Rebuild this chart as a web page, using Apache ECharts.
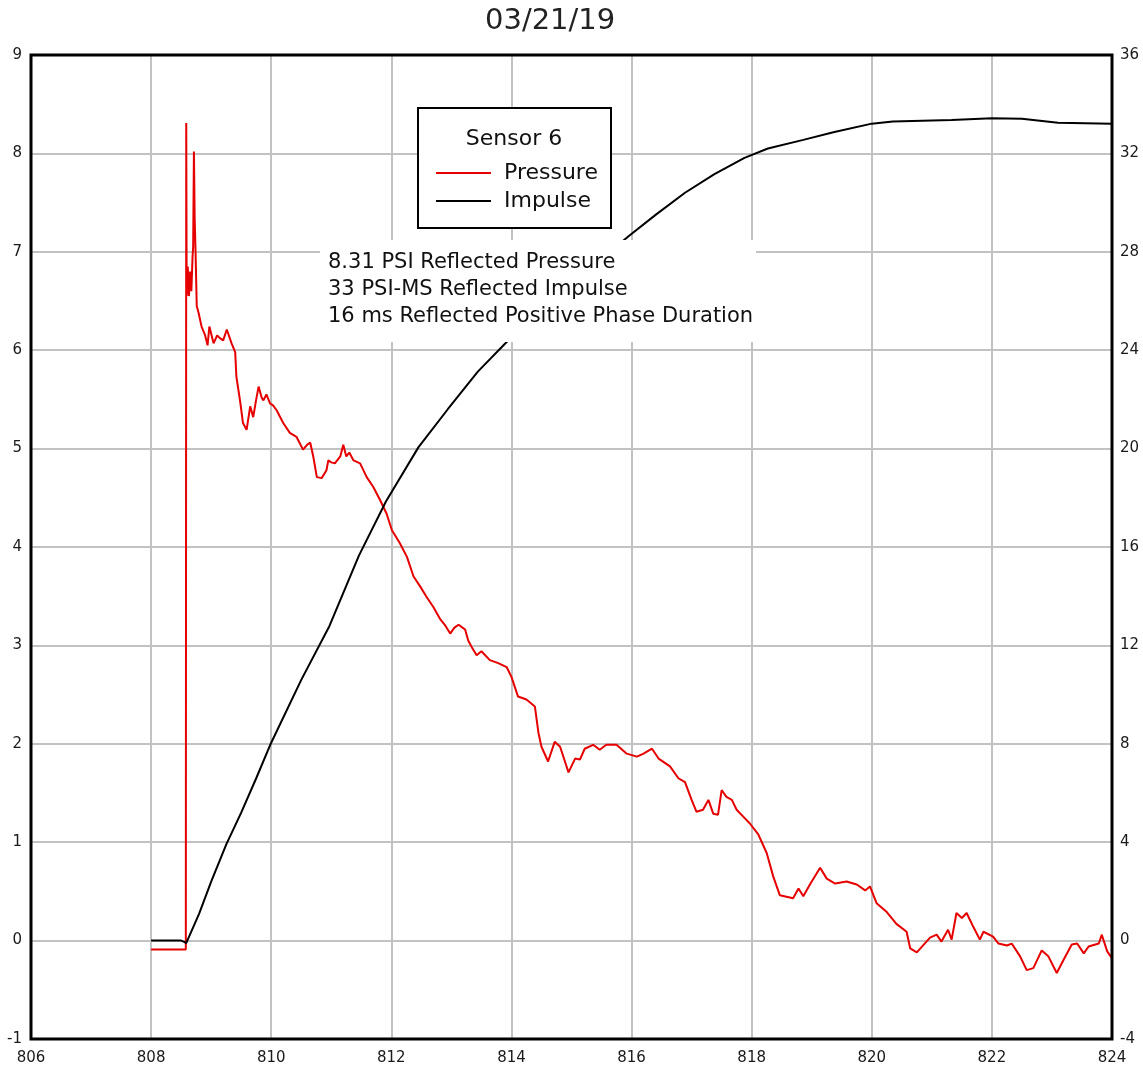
<!DOCTYPE html>
<html>
<head>
<meta charset="utf-8">
<title>03/21/19</title>
<script src="https://cdn.jsdelivr.net/npm/echarts@6/dist/echarts.min.js"></script>
<style>
  html, body { margin: 0; padding: 0; background: #fff; }
  #chart { width: 1143px; height: 1071px; }
</style>
</head>
<body>
<div id="chart"></div>
<script>
// Sensor 6 trace: time in ms
const pressureTime = [
  808.000, 808.200, 808.400, 808.578, 808.585, 808.592, 808.61, 808.63, 808.65, 808.67,
  808.69, 808.70, 808.713, 808.725, 808.74, 808.76, 808.79, 808.84, 808.90, 808.94,
  808.97, 809.04, 809.10, 809.15, 809.20, 809.26, 809.34, 809.40, 809.42, 809.48,
  809.53, 809.59, 809.65, 809.70, 809.75, 809.79, 809.84, 809.87, 809.92, 809.98,
  810.03, 810.09, 810.20, 810.31, 810.42, 810.53, 810.60, 810.65, 810.70, 810.76,
  810.84, 810.92, 810.95, 811.00, 811.06, 811.15, 811.20, 811.25, 811.30, 811.37,
  811.48, 811.59, 811.70, 811.81, 811.92, 812.01, 812.14, 812.26, 812.37, 812.48,
  812.59, 812.70, 812.81, 812.90, 812.98, 813.05, 813.12, 813.23, 813.28, 813.35,
  813.42, 813.50, 813.64, 813.78, 813.92, 814.00, 814.11, 814.25, 814.39, 814.45,
  814.50, 814.61, 814.72, 814.81, 814.95, 815.06, 815.14, 815.22, 815.36, 815.47,
  815.58, 815.75, 815.92, 816.09, 816.20, 816.34, 816.45, 816.64, 816.78, 816.89,
  817.00, 817.08, 817.19, 817.28, 817.36, 817.44, 817.50, 817.58, 817.67, 817.75,
  817.86, 817.97, 818.11, 818.25, 818.36, 818.47, 818.69, 818.78, 818.86, 818.97,
  819.14, 819.25, 819.39, 819.58, 819.75, 819.89, 819.97, 820.08, 820.25, 820.41,
  820.58, 820.64, 820.75, 820.97, 821.08, 821.16, 821.27, 821.33, 821.41, 821.50,
  821.58, 821.69, 821.80, 821.86, 822.02, 822.11, 822.25, 822.33, 822.47, 822.58,
  822.69, 822.83, 822.94, 823.08, 823.19, 823.33, 823.42, 823.53, 823.61, 823.78,
  823.83, 823.92, 824.00
];
// Pressure, PSI
const pressureValue = [
  -0.09, -0.09, -0.09, -0.09, 8.31, 6.55, 6.85, 6.55, 6.80, 6.60,
  6.95, 7.05, 8.02, 7.35, 7.00, 6.45, 6.38, 6.24, 6.15, 6.05,
  6.24, 6.07, 6.15, 6.12, 6.10, 6.21, 6.07, 5.98, 5.73, 5.49,
  5.26, 5.19, 5.43, 5.32, 5.50, 5.63, 5.52, 5.49, 5.55, 5.46,
  5.44, 5.39, 5.26, 5.16, 5.12, 4.99, 5.04, 5.06, 4.92, 4.71,
  4.70, 4.78, 4.88, 4.86, 4.85, 4.92, 5.04, 4.92, 4.96, 4.88,
  4.85, 4.71, 4.61, 4.48, 4.34, 4.17, 4.04, 3.90, 3.70, 3.60,
  3.49, 3.39, 3.27, 3.20, 3.12, 3.18, 3.21, 3.16, 3.05, 2.97,
  2.90, 2.94, 2.85, 2.82, 2.78, 2.68, 2.48, 2.45, 2.38, 2.11,
  1.97, 1.82, 2.02, 1.97, 1.71, 1.85, 1.84, 1.95, 1.99, 1.94,
  1.99, 1.99, 1.90, 1.87, 1.90, 1.95, 1.85, 1.77, 1.65, 1.61,
  1.43, 1.31, 1.33, 1.43, 1.29, 1.28, 1.53, 1.46, 1.43, 1.33,
  1.26, 1.19, 1.08, 0.89, 0.65, 0.46, 0.43, 0.53, 0.45, 0.57,
  0.74, 0.63, 0.58, 0.60, 0.57, 0.51, 0.55, 0.38, 0.29, 0.17,
  0.09, -0.08, -0.12, 0.03, 0.06, -0.01, 0.11, 0.01, 0.28, 0.23,
  0.28, 0.14, 0.01, 0.09, 0.04, -0.03, -0.05, -0.03, -0.16, -0.30,
  -0.28, -0.10, -0.16, -0.33, -0.20, -0.04, -0.03, -0.13, -0.06, -0.03,
  0.06, -0.11, -0.18
];
const impulseTime = [
  808.00, 808.50, 808.55, 808.585, 808.80, 809.00, 809.25, 809.50, 809.75, 809.98,
  810.50, 810.97, 811.46, 811.91, 812.45, 812.94, 813.44, 813.88, 814.40, 814.90,
  815.40, 815.95, 816.40, 816.89, 817.38, 817.88, 818.27, 818.86, 819.36, 820.00,
  820.35, 821.33, 822.00, 822.50, 823.10, 824.00
];
// Impulse, PSI-ms
const impulseValue = [
  0, 0, -0.05, -0.1, 1.1, 2.4, 3.9, 5.2, 6.6, 7.94,
  10.6, 12.79, 15.65, 17.85, 20.05, 21.6, 23.13, 24.23, 25.5, 26.5,
  27.5, 28.63, 29.5, 30.4, 31.16, 31.82, 32.2, 32.55, 32.86, 33.21,
  33.30, 33.36, 33.43, 33.41, 33.25, 33.21
];

const chartTitle = '03/21/19';
const legendTitle = 'Sensor 6';
const seriesNames = ['Pressure', 'Impulse'];
const summaryLines = [
  '8.31 PSI Reflected Pressure',
  '33 PSI-MS Reflected Impulse',
  '16 ms Reflected Positive Phase Duration'
];

const FONT = 'DejaVu Sans';
const pressurePairs = pressureTime.map((t, i) => [t, pressureValue[i]]);
const impulsePairs = impulseTime.map((t, i) => [t, impulseValue[i]]);

const chart = echarts.init(document.getElementById('chart'), null, { renderer: 'canvas' });

// plot frame
const GRID = { left: 31, right: 31, top: 55, bottom: 32 };
const W = 1143, H = 1071;

const gridLine = { show: true, showMinLine: false, showMaxLine: false, lineStyle: { color: '#c2c2c2', width: 2 } };
const axisText = { color: '#1a1a1a', fontSize: 15, fontFamily: FONT };

chart.setOption({
  animation: false,
  backgroundColor: '#fff',
  title: {
    text: chartTitle,
    left: 485,
    top: 7,
    padding: 0,
    textStyle: { fontFamily: FONT, fontSize: 29, fontWeight: 'normal', color: '#222' }
  },
  grid: Object.assign({ show: false }, GRID),
  legend: {
    orient: 'vertical',
    left: 431,
    top: 154,
    itemGap: 0,
    itemWidth: 55,
    itemHeight: 2,
    icon: 'rect',
    z: 120,
    data: seriesNames,
    textStyle: { fontFamily: FONT, fontSize: 22, color: '#111', lineHeight: 28, padding: [0, 0, 0, 8] }
  },
  xAxis: {
    type: 'value',
    min: 806, max: 824, interval: 2,
    axisLine: { show: false },
    axisTick: { show: false },
    splitLine: gridLine,
    axisLabel: Object.assign({ margin: 12, showMinLabel: true, showMaxLabel: true }, axisText)
  },
  yAxis: [
    {
      type: 'value',
      min: -1, max: 9, interval: 1,
      axisLine: { show: false },
      axisTick: { show: false },
      splitLine: gridLine,
      axisLabel: Object.assign({ margin: 9 }, axisText)
    },
    {
      type: 'value',
      position: 'right',
      min: -4, max: 36, interval: 4,
      axisLine: { show: false },
      axisTick: { show: false },
      splitLine: { show: false },
      axisLabel: Object.assign({ margin: 8 }, axisText)
    }
  ],
  series: [
    {
      name: seriesNames[0],
      type: 'line',
      yAxisIndex: 0,
      data: pressurePairs,
      showSymbol: false,
      symbol: 'none',
      color: '#e60000',
      lineStyle: { color: '#e60000', width: 2 },
      z: 3
    },
    {
      name: seriesNames[1],
      type: 'line',
      yAxisIndex: 1,
      data: impulsePairs,
      showSymbol: false,
      symbol: 'none',
      color: '#000',
      lineStyle: { color: '#000', width: 2 },
      z: 4
    }
  ],
  graphic: [
    {
      type: 'rect',
      z: 90,
      silent: true,
      shape: { x: GRID.left, y: GRID.top, width: W - GRID.left - GRID.right, height: H - GRID.top - GRID.bottom },
      style: { fill: null, stroke: '#000', lineWidth: 3 }
    },
    {
      type: 'rect',
      z: 100,
      shape: { x: 320, y: 240, width: 436, height: 102 },
      style: { fill: '#fff', stroke: null }
    },
    {
      type: 'text',
      z: 101,
      x: 328, y: 249,
      style: {
        text: summaryLines.join('\n'),
        font: '21px "' + FONT + '"',
        lineHeight: 27,
        fill: '#111',
        textAlign: 'left',
        textVerticalAlign: 'top'
      }
    },
    {
      type: 'rect',
      z: 100,
      shape: { x: 418, y: 108, width: 193, height: 120 },
      style: { fill: '#fff', stroke: '#000', lineWidth: 2 }
    },
    {
      type: 'text',
      z: 101,
      x: 514, y: 139,
      style: {
        text: legendTitle,
        font: '22px "' + FONT + '"',
        fill: '#111',
        textAlign: 'center',
        textVerticalAlign: 'middle'
      }
    }
  ]
});
</script>
</body>
</html>
